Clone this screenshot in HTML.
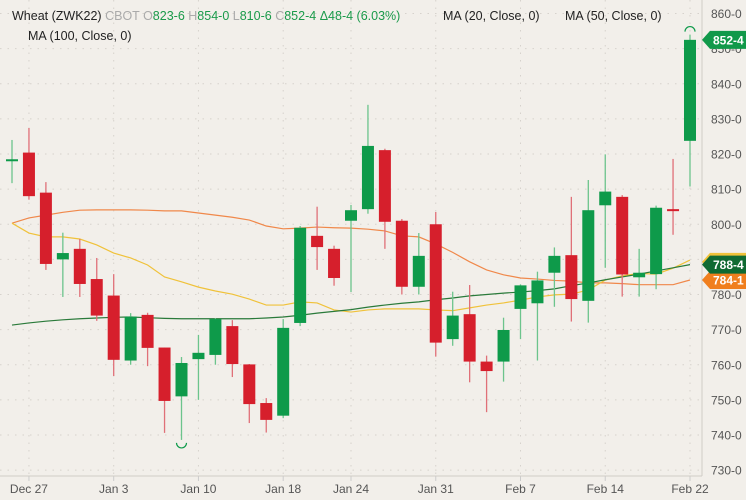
<!DOCTYPE html>
<html><head><meta charset="utf-8"><style>
body{margin:0;background:#f2efea;}
svg{display:block;font-family:"Liberation Sans",sans-serif;}
</style></head><body>
<svg id="chart" width="750" height="500" viewBox="0 0 750 500" xmlns="http://www.w3.org/2000/svg">
<rect x="0" y="0" width="750" height="500" fill="#f2efea"/>
<rect x="746" y="0" width="4" height="500" fill="#ffffff"/>
<g id="grid"></g>
<g id="mas"></g>
<g id="candles"></g>
<g id="axes"></g>
<g font-size="12.5">
<text x="12" y="20" fill="#222">Wheat (ZWK22) <tspan fill="#aaa">CBOT</tspan> <tspan fill="#aaa">O</tspan><tspan fill="#1a9a4a">823-6</tspan> <tspan fill="#aaa">H</tspan><tspan fill="#1a9a4a">854-0</tspan> <tspan fill="#aaa">L</tspan><tspan fill="#1a9a4a">810-6</tspan> <tspan fill="#aaa">C</tspan><tspan fill="#1a9a4a">852-4</tspan> <tspan fill="#1a9a4a">Δ48-4 (6.03%)</tspan></text>
<text x="443" y="20" fill="#222">MA (20, Close, 0)</text>
<text x="565" y="20" fill="#222">MA (50, Close, 0)</text>
<text x="28" y="40" fill="#222">MA (100, Close, 0)</text>
</g>
</svg>
<script>
const opens =  [818,820.4,809,790,793,784.4,779.7,761.2,774.2,764.9,751,761.6,762.8,771,760.1,749.1,745.5,771.9,796.7,793,801,804.3,821.1,801,782.2,800,767.3,774.4,760.9,760.9,775.9,777.5,786.2,791.2,778.2,805.4,807.8,784.9,785.8,804.3,823.75];
const highs =  [824,827.4,812,797.6,795.8,790.4,785.8,774.7,774.8,764.9,762.2,768.5,773.3,772.7,760.2,750.5,773,799.5,805,793.9,805.5,834,821.5,801.5,797.5,803.5,780.8,782.7,762.6,773.4,782.9,786.5,793.4,807.8,812.6,819.9,808.3,793,805.3,818.6,854];
const lows =   [811.7,807,787,779.3,779.3,772.5,756.8,760,759.6,740.6,738.6,750,760,756.5,743.4,740.7,744.8,771,787,782.5,780.7,803,793,780,780,762.3,765.4,755,746.5,755.2,767.3,761.2,776.5,772.3,772,787.6,779.4,779.4,781.5,797,810.75];
const closes = [818.5,808,788.7,791.8,783,774,761.4,773.7,764.8,749.7,760.5,763.4,773,760.2,748.8,744.3,770.5,799,793.5,784.7,804,822.3,800.7,782.2,791,766.3,774,760.9,758.2,769.9,782.6,784,791,778.7,804,809.3,785.7,786.2,804.7,804,852.5];
const ma20 =  [800.3,797.5,796.4,796.4,795.8,794.1,791.8,790.4,788.4,785,783.6,782.1,781,780.1,778.7,777,777,777.9,777.6,775.6,775,775.6,775.9,775.9,775.9,775.6,775.4,776.2,777,777.6,778.4,779.3,779.9,780.1,781.3,784.1,785.3,786,785.8,787.5,789.8];
const ma50 =  [800.3,801.8,802.6,803.4,804,804.1,804.1,804.1,804,803.8,803.8,803.2,802.6,802,801.2,799.5,798.7,798.9,799.2,799,798.9,798.6,798.1,796.7,796.4,794.4,792,789.3,787,785.6,784.7,784.4,784,783.8,783.3,783.3,783.1,782.8,782.8,782.8,784.125];
const ma100 = [771.3,771.9,772.4,772.8,773.1,773.3,773.5,773.6,773.4,773.2,773.1,773.1,773.1,773.1,773.1,773.3,773.6,774.1,774.7,775.2,775.7,776.4,777,777.5,777.9,778.5,779,779.6,780,780.4,780.7,781.1,781.6,782.5,783.3,784.2,785,785.8,786.7,787.6,788.5];
const yTicks = [730,740,750,760,770,780,790,800,810,820,830,840,850,860];
const xLabels = ["Dec 27","Jan 3","Jan 10","Jan 18","Jan 24","Jan 31","Feb 7","Feb 14","Feb 22"];
const xLabelIdx = [1,6,11,16,20,25,30,35,40];

const NS="http://www.w3.org/2000/svg";
const xS=i=>12+i*16.95;
const yS=v=>154+(820-v)*3.5125;
function mk(tag,attrs,parent){const e=document.createElementNS(NS,tag);for(const k in attrs)e.setAttribute(k,attrs[k]);parent.appendChild(e);return e;}
const grid=document.getElementById('grid'),axes=document.getElementById('axes'),cg=document.getElementById('candles'),mg=document.getElementById('mas');
yTicks.forEach(v=>{
  const l=mk('line',{x1:0,x2:702,y1:yS(v),y2:yS(v),stroke:'#d6d2cc','stroke-dasharray':'1.5 6'},grid);
  
  
  const t=mk('text',{x:711,y:yS(v)+4.5,'font-size':'12',fill:'#555'},axes);
  t.textContent=v+'-0';
  
  
});
xLabelIdx.forEach((idx,k)=>{
  const l=mk('line',{x1:xS(idx),x2:xS(idx),y1:0,y2:476,stroke:'#d6d2cc','stroke-dasharray':'1.5 6'},grid);
  
  
  const tk=mk('line',{x1:xS(idx),x2:xS(idx),y1:476,y2:481,stroke:'#ccc'},axes);
  
  
  const t=mk('text',{x:xS(idx),y:493,'font-size':'12',fill:'#555','text-anchor':'middle'},axes);
  t.textContent=xLabels[k];
  
  
});
const bl=mk('line',{x1:0,x2:702,y1:476,y2:476,stroke:'#d0ccc6'},axes);


const rl=mk('line',{x1:702,x2:702,y1:0,y2:476,stroke:'#d0ccc6'},axes);



function maLine(arr,color,name){
  const p=mk('polyline',{points:arr.map((v,i)=>xS(i)+','+yS(v)).join(' '),fill:'none',stroke:color,'stroke-width':'1.2'},mg);
  
  
}
maLine(ma50,'#f0884a','ma50-line');
maLine(ma20,'#f0c23a','ma20-line');
maLine(ma100,'#2a7a3a','ma100-line');

opens.forEach((o,i)=>{
  const c=closes[i],up=c>=o,col=up?'#0e9a4a':'#d61f2c',wc=up?'#6cc48c':'#e07078';
  const g=mk('g',{},cg);
  
  
  mk('line',{x1:xS(i),x2:xS(i),y1:yS(highs[i]),y2:yS(lows[i]),stroke:wc,'stroke-width':'1.3'},g);
  const top=yS(Math.max(o,c)),h=Math.max(2,Math.abs(yS(o)-yS(c)));
  mk('rect',{x:xS(i)-6,y:top,width:12,height:h,fill:col},g);
});
const lowI=lows.indexOf(Math.min(...lows)),highI=highs.indexOf(Math.max(...highs));
const m1=mk('path',{d:`M${xS(lowI)-5},${yS(lows[lowI])+3} a5,5 0 0 0 10,0`,fill:'none',stroke:'#0e9a4a','stroke-width':'1.2'},cg);


const m2=mk('path',{d:`M${xS(highI)-5},${yS(highs[highI])-3} a5,5 0 0 1 10,0`,fill:'none',stroke:'#0e9a4a','stroke-width':'1.2'},cg);



function fmt(v){const f=Math.floor(v);return f+'-'+Math.round((v-f)*8);}
function tag(v,bg,name,showText){
  const y=yS(v);
  const g=mk('g',{},axes);
  
  
  mk('path',{d:`M702,${y} L710,${y-9} L746,${y-9} L746,${y+9} L710,${y+9} Z`,fill:bg},g);
  if(showText){
    const t=mk('text',{x:713,y:y+4.5,'font-size':'12','font-weight':'bold',fill:'#fff'},g);
    t.textContent=fmt(v);
  }
}
tag(ma100[ma100.length-1]+0.8,'#f0c23a','ma20-price-tag',false);
tag(ma50[ma50.length-1],'#f07f1e','ma50-price-tag',true);
tag(ma100[ma100.length-1],'#106a32','ma100-price-tag',true);
tag(closes[closes.length-1],'#11994a','last-price-tag',true);
</script>
</body></html>
